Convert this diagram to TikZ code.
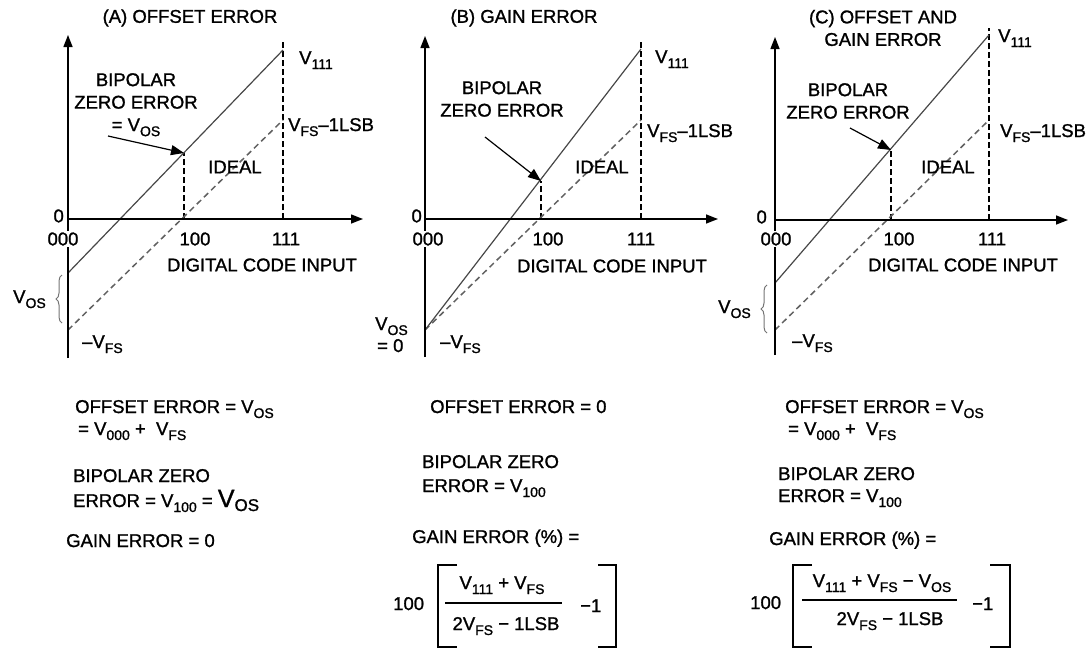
\documentclass[tikz,border=0pt]{standalone}
\usepackage{fontspec}
\setmainfont{Liberation Sans}[UprightFeatures={FakeBold=1.2}]
\usetikzlibrary{arrows.meta,decorations.pathreplacing}
\newcommand{\lowsub}[1]{\raisebox{-5pt}{\fontsize{14}{14}\selectfont #1}}
\newcommand{\vsub}[1]{V\lowsub{#1}}
\newcommand{\bigvos}{{\fontsize{25}{25}\selectfont V}\raisebox{-4pt}{\fontsize{17}{17}\selectfont OS}}

\begin{document}
\begin{tikzpicture}[
  x=1pt, y=-1pt,
  font=\fontsize{18.5}{22.5}\selectfont,
  axis/.style={-{Triangle[length=12pt,width=9pt]}, line width=1.4pt},
  real/.style={line width=1.2pt, draw=black!72},
  ideal/.style={line width=1.5pt, draw=black!62, dash pattern=on 6pt off 4pt},
  guide/.style={line width=1.2pt, dash pattern=on 6pt off 3pt},
  pointer/.style={-{Triangle[length=13pt,width=10pt]}, line width=1.2pt},
  lbl/.style={inner sep=0pt},
  code/.style={fill=white, inner sep=1pt},
  offbrace/.style={decorate, decoration={brace, amplitude=6pt}, line width=1pt, draw=black!55},
  bracket/.style={line width=1.4pt}
]
\useasboundingbox (0,0) rectangle (1092,648);

% (A) offset error
\coordinate (Atop) at (68,35);
\coordinate (Abot) at (68,358);
\coordinate (A0) at (68,219);
\coordinate (Aend) at (363,219);
\coordinate (Av000) at (68,273);
\coordinate (Av111) at (283,50);
\coordinate (Afs) at (68,330);
\coordinate (Afs1) at (283,120);
\coordinate (Am) at (184,153);
\coordinate (Am0) at (184,219);
\coordinate (Ag0) at (283,219);
\coordinate (Agt) at (283,42);
\coordinate (Ap) at (108,136);
\coordinate (Abr1) at (62,323);
\coordinate (Abr2) at (62,275);

\draw[guide] (Am0) -- (Am);
\draw[guide] (Ag0) -- (Agt);
\draw[ideal] (Afs) -- (Afs1);
\draw[real] (Av000) -- (Av111);
\draw[axis] (Abot) -- (Atop);
\draw[axis] (A0) -- (Aend);
\draw[pointer] (Ap) -- (Am);
\draw[offbrace] (Abr1) -- (Abr2);

\node[lbl] (titleA) at (190,18) {(A) OFFSET ERROR};
\node[lbl, anchor=east] (zeroA) at (64,216) {0};
\node[code] (c000A) at (63,239) {000};
\node[lbl] (c100A) at (195,239) {100};
\node[lbl] (c111A) at (286,239) {111};
\node[lbl] (xlabA) at (262,265) {DIGITAL CODE INPUT};
\node[lbl] (idealA) at (235,167) {IDEAL};
\node[lbl, align=center, anchor=north] (bzeA) at (136,73) {BIPOLAR\\ZERO ERROR\\= \vsub{OS}};
\node[lbl, anchor=base west] (v111A) at (299,64) {\vsub{111}};
\node[lbl, anchor=base west] (vfsA) at (288,131) {\vsub{FS}–1LSB};
\node[lbl, anchor=base west] (vosA) at (13,303) {\vsub{OS}};
\node[lbl, anchor=base west] (mfsA) at (82,348) {–\vsub{FS}};

\node[lbl, anchor=base west] (offA1) at (75,413) {OFFSET ERROR = \vsub{OS}};
\node[lbl, anchor=base west] (offA2) at (78,435) {= \vsub{000} +~ \vsub{FS}};
\node[lbl, anchor=base west] (bzA1) at (73,482) {BIPOLAR ZERO};
\node[lbl, anchor=base west] (bzA2) at (73,507) {ERROR = \vsub{100} = \bigvos};
\node[lbl, anchor=base west] (gainA) at (66,547) {GAIN ERROR = 0};

% (B) gain error
\coordinate (Btop) at (425,36);
\coordinate (Bbot) at (425,357);
\coordinate (B0) at (425,219);
\coordinate (Bend) at (718,219);
\coordinate (Bfs) at (425,330);
\coordinate (Bv111) at (641,49);
\coordinate (Bfs1) at (641,120);
\coordinate (Bm) at (541,181);
\coordinate (Bm0) at (541,219);
\coordinate (Bg0) at (641,219);
\coordinate (Bgt) at (641,42);
\coordinate (Bp) at (485,137);

\draw[guide] (Bm0) -- (Bm);
\draw[guide] (Bg0) -- (Bgt);
\draw[ideal] (Bfs) -- (Bfs1);
\draw[real] (Bfs) -- (Bv111);
\draw[axis] (Bbot) -- (Btop);
\draw[axis] (B0) -- (Bend);
\draw[pointer] (Bp) -- (Bm);

\node[lbl] (titleB) at (524,18) {(B) GAIN ERROR};
\node[lbl, anchor=east] (zeroB) at (422,216) {0};
\node[code] (c000B) at (428,239) {000};
\node[lbl] (c100B) at (548,239) {100};
\node[lbl] (c111B) at (641,239) {111};
\node[lbl] (xlabB) at (612,266) {DIGITAL CODE INPUT};
\node[lbl] (idealB) at (602,167) {IDEAL};
\node[lbl, align=center, anchor=north] (bzeB) at (502,81) {BIPOLAR\\ZERO ERROR};
\node[lbl, anchor=base west] (v111B) at (655,63) {\vsub{111}};
\node[lbl, anchor=base west] (vfsB) at (647,137) {\vsub{FS}–1LSB};
\node[lbl, anchor=base west] (vosB) at (375,330) {\vsub{OS}};
\node[lbl, anchor=base west] (eqzB) at (377,352) {= 0};
\node[lbl, anchor=base west] (mfsB) at (440,348) {–\vsub{FS}};

\node[lbl, anchor=base west] (offB) at (430,413) {OFFSET ERROR = 0};
\node[lbl, anchor=base west] (bzB1) at (422,468) {BIPOLAR ZERO};
\node[lbl, anchor=base west] (bzB2) at (422,492) {ERROR = \vsub{100}};
\node[lbl, anchor=base west] (gainB) at (412,543) {GAIN ERROR (\%) =};
\node[lbl, anchor=base west] (hundB) at (393,610) {100};
\node[lbl, anchor=base] (numB) at (502,589) {\vsub{111} + \vsub{FS}};
\node[lbl, anchor=base] (denB) at (506,630) {2\vsub{FS} − 1LSB};
\node[lbl, anchor=base west] (oneB) at (580,612) {−1};
\draw[bracket] (445,603) -- (562,603);
\draw[bracket] (457,565) -- (438,565) -- (438,647) -- (457,647);
\draw[bracket] (598,565) -- (616,565) -- (616,647) -- (598,647);

% (C) offset and gain error
\coordinate (Ctop) at (775,37);
\coordinate (Cbot) at (775,355);
\coordinate (C0) at (775,220);
\coordinate (Cend) at (1068,220);
\coordinate (Cv000) at (775,283);
\coordinate (Cv111) at (989,35);
\coordinate (Cfs) at (775,330);
\coordinate (Cfs1) at (989,120);
\coordinate (Cm) at (891,150);
\coordinate (Cm0) at (891,220);
\coordinate (Cg0) at (989,220);
\coordinate (Cgt) at (989,28);
\coordinate (Cp) at (850,128);
\coordinate (Cbr1) at (767,333);
\coordinate (Cbr2) at (767,285);

\draw[guide] (Cm0) -- (Cm);
\draw[guide] (Cg0) -- (Cgt);
\draw[ideal] (Cfs) -- (Cfs1);
\draw[real] (Cv000) -- (Cv111);
\draw[axis] (Cbot) -- (Ctop);
\draw[axis] (C0) -- (Cend);
\draw[pointer] (Cp) -- (Cm);
\draw[offbrace] (Cbr1) -- (Cbr2);

\node[lbl, align=center] (titleC) at (883,28) {(C) OFFSET AND\\GAIN ERROR};
\node[lbl, anchor=east] (zeroC) at (767,217) {0};
\node[code] (c000C) at (776,239) {000};
\node[lbl] (c100C) at (899,239) {100};
\node[lbl] (c111C) at (992,239) {111};
\node[lbl] (xlabC) at (963,265) {DIGITAL CODE INPUT};
\node[lbl] (idealC) at (948,167) {IDEAL};
\node[lbl, align=center, anchor=north] (bzeC) at (848,83) {BIPOLAR\\ZERO ERROR};
\node[lbl, anchor=base west] (v111C) at (998,42) {\vsub{111}};
\node[lbl, anchor=base west] (vfsC) at (1000,137) {\vsub{FS}–1LSB};
\node[lbl, anchor=base west] (vosC) at (718,313) {\vsub{OS}};
\node[lbl, anchor=base west] (mfsC) at (792,347) {–\vsub{FS}};

\node[lbl, anchor=base west] (offC1) at (785,413) {OFFSET ERROR = \vsub{OS}};
\node[lbl, anchor=base west] (offC2) at (788,435) {= \vsub{000} +~ \vsub{FS}};
\node[lbl, anchor=base west] (bzC1) at (778,480) {BIPOLAR ZERO};
\node[lbl, anchor=base west] (bzC2) at (778,502) {ERROR = \vsub{100}};
\node[lbl, anchor=base west] (gainC) at (769,545) {GAIN ERROR (\%) =};
\node[lbl, anchor=base west] (hundC) at (750,609) {100};
\node[lbl, anchor=base] (numC) at (882,587) {\vsub{111} + \vsub{FS} − \vsub{OS}};
\node[lbl, anchor=base] (denC) at (890,625) {2\vsub{FS} − 1LSB};
\node[lbl, anchor=base west] (oneC) at (972,610) {−1};
\draw[bracket] (802,600) -- (957,600);
\draw[bracket] (812,565) -- (793,565) -- (793,647) -- (812,647);
\draw[bracket] (990,565) -- (1010,565) -- (1010,647) -- (990,647);
\end{tikzpicture}
\end{document}
